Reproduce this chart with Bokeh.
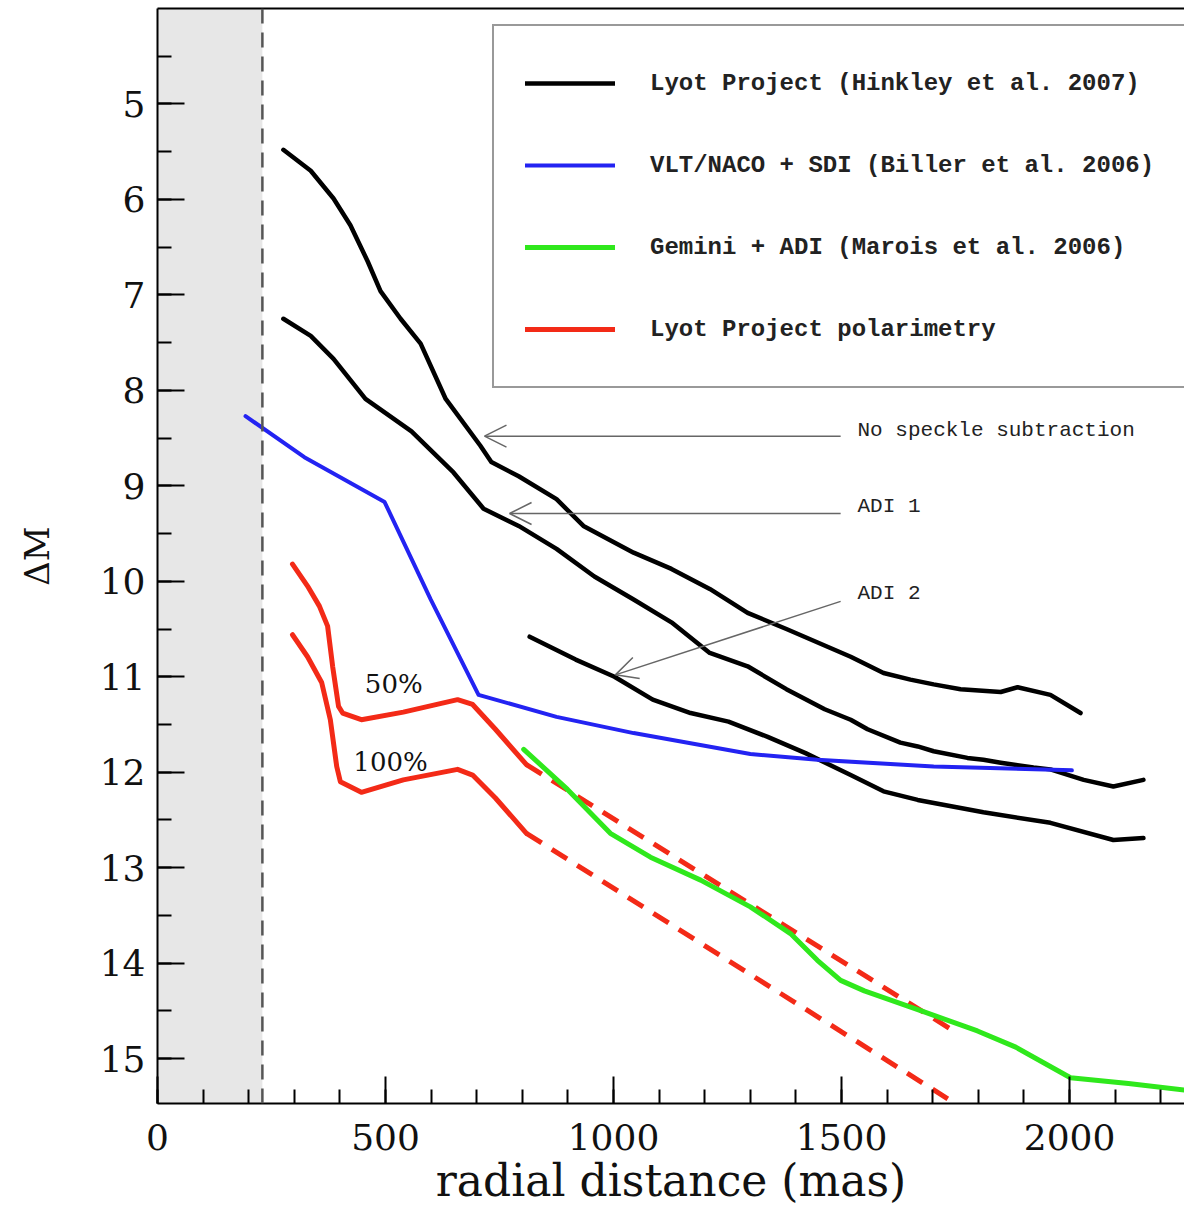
from bokeh.plotting import figure
from bokeh.models import (Range1d, FixedTicker, LinearAxis, Legend, LegendItem, Span,
                          BoxAnnotation, Arrow, OpenHead, Label)
from bokeh.embed import file_html
from bokeh.resources import INLINE

# ---------------- data (radial distance in mas, Delta M in mag) ----------------
no_speckle_x = [276, 336, 386, 423, 461, 489, 533, 577, 632, 708, 732, 792, 875, 934, 1044,
                1127, 1211, 1294, 1379, 1520, 1592, 1651, 1702, 1761, 1849, 1886, 1958, 2024]
no_speckle_y = [5.48, 5.70, 5.99, 6.27, 6.65, 6.96, 7.25, 7.51, 8.09, 8.58, 8.75, 8.90, 9.14,
                9.42, 9.70, 9.87, 10.08, 10.33, 10.50, 10.79, 10.96, 11.03, 11.08, 11.13,
                11.16, 11.11, 11.19, 11.38]

adi1_x = [276, 336, 386, 456, 557, 649, 715, 792, 875, 958, 1044, 1127, 1211, 1294, 1379,
          1463, 1520, 1557, 1629, 1667, 1702, 1776, 1811, 1849, 1921, 1958, 2031, 2096, 2162]
adi1_y = [7.25, 7.43, 7.67, 8.09, 8.43, 8.86, 9.24, 9.42, 9.66, 9.95, 10.19, 10.43, 10.75,
          10.89, 11.13, 11.34, 11.45, 11.55, 11.69, 11.73, 11.78, 11.85, 11.87, 11.90, 11.95,
          11.97, 12.08, 12.15, 12.08]

adi2_x = [816, 917, 1002, 1086, 1169, 1252, 1338, 1421, 1520, 1592, 1667, 1811, 1958, 2096, 2162]
adi2_y = [10.58, 10.82, 11.00, 11.24, 11.38, 11.47, 11.63, 11.80, 12.03, 12.20, 12.29, 12.42,
          12.53, 12.71, 12.69]

naco_x = [193, 322, 498, 599, 704, 875, 1044, 1300, 1447, 1702, 2005]
naco_y = [8.27, 8.70, 9.17, 10.19, 11.19, 11.42, 11.59, 11.81, 11.87, 11.94, 11.98]

gemini_x = [803, 899, 993, 1081, 1191, 1300, 1388, 1447, 1498, 1550, 1675, 1798, 1882, 2002,
            2129, 2270]
gemini_y = [11.76, 12.18, 12.64, 12.89, 13.13, 13.41, 13.69, 13.97, 14.18, 14.29, 14.50, 14.71,
            14.88, 15.20, 15.26, 15.34]

pol50_x = [296, 329, 355, 373, 384, 397, 406, 447, 539, 658, 691, 741, 809]
pol50_y = [9.82, 10.05, 10.26, 10.47, 10.89, 11.31, 11.38, 11.45, 11.37, 11.24, 11.29, 11.55, 11.92]

pol100_x = [296, 329, 360, 379, 393, 401, 447, 539, 658, 691, 741, 809]
pol100_y = [10.56, 10.79, 11.06, 11.45, 11.94, 12.10, 12.21, 12.08, 11.97, 12.03, 12.27, 12.64]

pol50_extrap_x = [809, 1746]
pol50_extrap_y = [11.92, 14.71]
pol100_extrap_x = [809, 1746]
pol100_extrap_y = [12.64, 15.46]

inner_limit_mas = 230

legend_labels = ["Lyot Project (Hinkley et al. 2007)",
                 "VLT/NACO + SDI (Biller et al. 2006)",
                 "Gemini + ADI (Marois et al. 2006)",
                 "Lyot Project polarimetry"]

note_texts = ["No speckle subtraction", "ADI 1", "ADI 2"]
note_x = [1535, 1535, 1535]
note_y = [8.42, 9.22, 10.13]
arrow_x_start = [1498, 1498, 1498]
arrow_y_start = [8.48, 9.29, 10.21]
arrow_x_end = [717, 772, 1004]
arrow_y_end = [8.48, 9.29, 10.98]

pct_texts = ["50%", "100%"]
pct_x = [518, 511]
pct_y = [11.08, 11.89]

x_major = [0, 500, 1000, 1500, 2000]
x_minor = list(range(0, 2300, 100))
y_major = [5, 6, 7, 8, 9, 10, 11, 12, 13, 14, 15]
y_minor = [v / 2 for v in range(9, 32)]

# ---------------- figure ----------------
BLACK = "#000000"
BLUE = "#2323f2"
GREEN = "#2fe81c"
RED = "#f32a17"

p = figure(width=1184, height=1212, x_range=Range1d(0, 2252), y_range=Range1d(15.47, 4.0),
           output_backend="svg", toolbar_location=None,
           min_border_left=157, min_border_right=0, min_border_top=8, min_border_bottom=109)
p.outline_line_color = None
p.xgrid.grid_line_color = None
p.ygrid.grid_line_color = None
p.background_fill_color = "white"
p.border_fill_color = "white"

# axes
xa = p.xaxis[0]
xa.ticker = FixedTicker(ticks=x_major, minor_ticks=x_minor)
ya = p.yaxis[0]
ya.ticker = FixedTicker(ticks=y_major, minor_ticks=y_minor)
for ax in (xa, ya):
    ax.major_tick_in = 27
    ax.major_tick_out = 0
    ax.minor_tick_in = 14
    ax.minor_tick_out = 0
    ax.axis_line_width = 2
    ax.major_tick_line_width = 2
    ax.minor_tick_line_width = 2
    ax.axis_line_color = BLACK
    ax.major_tick_line_color = BLACK
    ax.minor_tick_line_color = BLACK
    ax.major_label_text_font = "DejaVu Serif"
    ax.major_label_text_font_size = "36px"
    ax.major_label_text_color = "#111111"
    ax.axis_label_text_font = "DejaVu Serif"
    ax.axis_label_text_font_style = "normal"
    ax.axis_label_text_color = "#111111"

xa.axis_label = "radial distance (mas)"
xa.axis_label_text_font_size = "44px"
xa.major_label_standoff = 20
xa.axis_label_standoff = 2

ya.axis_label = "ΔM"
ya.axis_label_text_font_size = "34px"
ya.major_label_standoff = 12
ya.axis_label_standoff = 40

top_axis = LinearAxis(ticker=FixedTicker(ticks=[]), major_tick_in=0, major_tick_out=0,
                      minor_tick_in=0, minor_tick_out=0, axis_line_width=2,
                      major_label_text_font_size="0px")
p.add_layout(top_axis, "above")

# inner working region
p.add_layout(BoxAnnotation(left=0, right=inner_limit_mas, fill_color="#e7e7e7", fill_alpha=1.0,
                           line_color=None, level="underlay"))
p.add_layout(Span(location=inner_limit_mas, dimension="height", line_color="#555555",
                  line_dash="15 9", line_width=2.5))

# curves
common = dict(line_join="round", line_cap="round")
r_a = p.line(no_speckle_x, no_speckle_y, line_color=BLACK, line_width=4.5, **common)
p.line(adi1_x, adi1_y, line_color=BLACK, line_width=4.5, **common)
p.line(adi2_x, adi2_y, line_color=BLACK, line_width=4.5, **common)
r_blue = p.line(naco_x, naco_y, line_color=BLUE, line_width=4, **common)
p.line(pol50_extrap_x, pol50_extrap_y, line_color=RED, line_width=5, line_dash="18 12")
p.line(pol100_extrap_x, pol100_extrap_y, line_color=RED, line_width=5, line_dash="18 12")
r_green = p.line(gemini_x, gemini_y, line_color=GREEN, line_width=5, **common)
r_red = p.line(pol50_x, pol50_y, line_color=RED, line_width=5, **common)
p.line(pol100_x, pol100_y, line_color=RED, line_width=5, **common)

# annotations: arrows and texts
for xs, ys, xe, ye in zip(arrow_x_start, arrow_y_start, arrow_x_end, arrow_y_end):
    p.add_layout(Arrow(x_start=xs, y_start=ys, x_end=xe, y_end=ye,
                       line_color="#666666", line_width=1.5,
                       end=OpenHead(size=22, line_color="#666666", line_width=1.5)))
for t, xx, yy in zip(note_texts, note_x, note_y):
    p.add_layout(Label(x=xx, y=yy, text=t, text_font="Liberation Mono", text_font_size="21px",
                       text_color="#222222", text_align="left", text_baseline="middle"))
for t, xx, yy in zip(pct_texts, pct_x, pct_y):
    p.add_layout(Label(x=xx, y=yy, text=t, text_font="DejaVu Serif", text_font_size="26px",
                       text_color="#111111", text_align="center", text_baseline="middle"))

# legend
legend = Legend(items=[LegendItem(label=legend_labels[0], renderers=[r_a]),
                       LegendItem(label=legend_labels[1], renderers=[r_blue]),
                       LegendItem(label=legend_labels[2], renderers=[r_green]),
                       LegendItem(label=legend_labels[3], renderers=[r_red])],
                location=(335, 715), orientation="vertical",
                glyph_width=90, glyph_height=52, label_height=52, spacing=30, padding=31,
                label_standoff=35, border_line_color="#333333", border_line_width=2.5,
                background_fill_color="white", background_fill_alpha=1.0,
                label_text_font="Liberation Mono", label_text_font_size="24px",
                label_text_font_style="bold", label_text_color="#222222")
p.add_layout(legend)

open("out.html", "w").write(file_html(p, INLINE))
